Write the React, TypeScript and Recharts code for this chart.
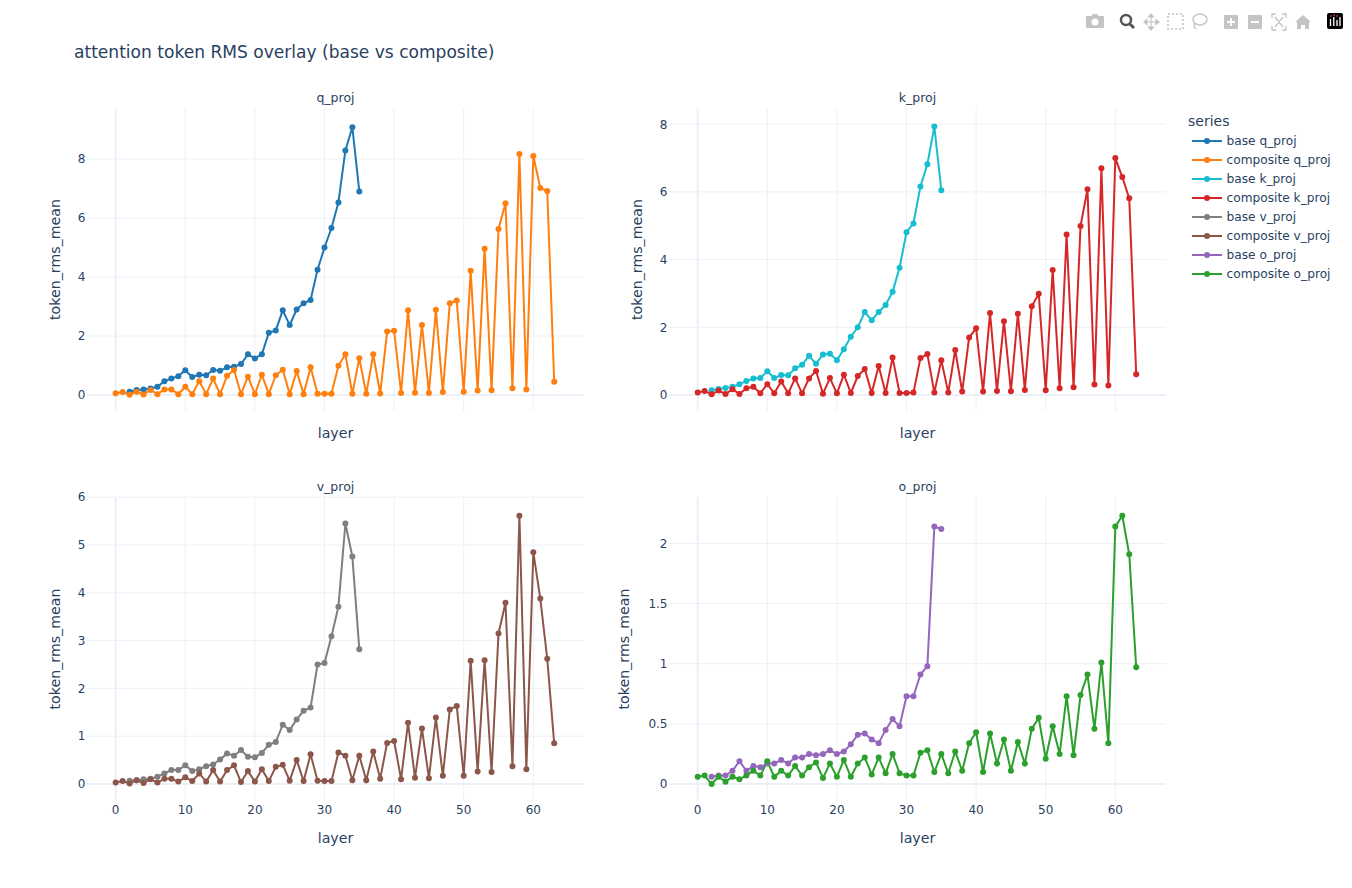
import { CartesianGrid, Line, LineChart, ReferenceLine, XAxis, YAxis } from "recharts";

const FONT = "'DejaVu Sans', Verdana, sans-serif";
const TEXT = "#2a3f5f";
const GRID = "#EBF0F8";

// values start at layer 2 for the base runs, layer 0 for the composite runs
const baseQ = [
  0.11, 0.17, 0.19, 0.22, 0.28, 0.47, 0.56, 0.64, 0.84, 0.61, 0.69, 0.67, 0.85, 0.82, 0.94, 0.96, 1.05,
  1.38, 1.24, 1.38, 2.11, 2.19, 2.87, 2.37, 2.9, 3.11, 3.22, 4.25, 5.0, 5.66, 6.53, 8.29, 9.08, 6.9,
];
const compositeQ = [
  0.06, 0.1, 0.01, 0.11, 0.02, 0.17, 0.03, 0.19, 0.19, 0.03, 0.28, 0.03, 0.47, 0.03, 0.56, 0.03, 0.65, 0.85,
  0.03, 0.62, 0.03, 0.69, 0.03, 0.67, 0.86, 0.03, 0.81, 0.03, 0.94, 0.04, 0.04, 0.04, 0.99, 1.38, 0.04, 1.25,
  0.04, 1.38, 0.05, 2.15, 2.18, 0.07, 2.87, 0.08, 2.37, 0.07, 2.89, 0.1, 3.11, 3.2, 0.11, 4.21, 0.15, 4.96,
  0.16, 5.63, 6.5, 0.23, 8.17, 0.19, 8.1, 7.02, 6.92, 0.45,
];
const baseK = [
  0.14, 0.18, 0.21, 0.24, 0.32, 0.41, 0.49, 0.5, 0.7, 0.5, 0.59, 0.58, 0.79, 0.89, 1.16, 0.92, 1.2, 1.22,
  1.03, 1.35, 1.72, 2.0, 2.45, 2.21, 2.45, 2.66, 3.05, 3.76, 4.81, 5.07, 6.16, 6.82, 7.93, 6.05,
];
const compositeK = [
  0.07, 0.12, 0.02, 0.13, 0.03, 0.17, 0.03, 0.2, 0.24, 0.05, 0.32, 0.05, 0.4, 0.05, 0.49, 0.05, 0.49, 0.71,
  0.04, 0.5, 0.05, 0.6, 0.06, 0.56, 0.77, 0.06, 0.86, 0.06, 1.11, 0.06, 0.06, 0.07, 1.09, 1.21, 0.07, 1.03,
  0.07, 1.33, 0.1, 1.7, 1.97, 0.1, 2.42, 0.12, 2.18, 0.11, 2.4, 0.15, 2.62, 2.99, 0.14, 3.69, 0.2, 4.74, 0.23,
  4.99, 6.08, 0.31, 6.7, 0.28, 7.0, 6.44, 5.81, 0.61,
];
const baseV = [
  0.07, 0.08, 0.1, 0.11, 0.15, 0.22, 0.29, 0.29, 0.39, 0.27, 0.31, 0.37, 0.41, 0.51, 0.64, 0.59, 0.71, 0.57,
  0.56, 0.65, 0.82, 0.88, 1.24, 1.13, 1.35, 1.53, 1.6, 2.5, 2.53, 3.09, 3.71, 5.45, 4.76, 2.82,
];
const compositeV = [
  0.03, 0.06, 0.01, 0.08, 0.02, 0.1, 0.03, 0.11, 0.11, 0.05, 0.14, 0.06, 0.22, 0.05, 0.29, 0.05, 0.29, 0.39,
  0.04, 0.27, 0.05, 0.31, 0.06, 0.36, 0.4, 0.07, 0.5, 0.06, 0.62, 0.07, 0.06, 0.06, 0.66, 0.59, 0.08, 0.59,
  0.08, 0.68, 0.11, 0.86, 0.9, 0.1, 1.28, 0.13, 1.16, 0.12, 1.39, 0.17, 1.56, 1.63, 0.17, 2.58, 0.26, 2.59,
  0.25, 3.15, 3.79, 0.37, 5.61, 0.31, 4.85, 3.88, 2.62, 0.85,
];
const baseO = [
  0.06, 0.07, 0.07, 0.11, 0.19, 0.11, 0.15, 0.14, 0.17, 0.17, 0.2, 0.17, 0.22, 0.22, 0.25, 0.24, 0.25, 0.28,
  0.25, 0.27, 0.33, 0.41, 0.42, 0.37, 0.34, 0.45, 0.54, 0.48, 0.73, 0.73, 0.91, 0.98, 2.14, 2.12,
];
const compositeO = [
  0.06, 0.07, 0.0, 0.06, 0.02, 0.06, 0.04, 0.07, 0.11, 0.07, 0.19, 0.06, 0.11, 0.07, 0.15, 0.07, 0.14, 0.18,
  0.05, 0.17, 0.06, 0.2, 0.06, 0.17, 0.22, 0.08, 0.22, 0.09, 0.25, 0.09, 0.07, 0.07, 0.26, 0.28, 0.1, 0.25,
  0.09, 0.27, 0.11, 0.34, 0.43, 0.1, 0.42, 0.17, 0.37, 0.11, 0.35, 0.17, 0.46, 0.55, 0.21, 0.48, 0.25, 0.73,
  0.24, 0.74, 0.91, 0.46, 1.01, 0.34, 2.14, 2.23, 1.91, 0.97,
];

const layerTicks = [0, 10, 20, 30, 40, 50, 60];
const legendNames = [
  "base q_proj",
  "composite q_proj",
  "base k_proj",
  "composite k_proj",
  "base v_proj",
  "composite v_proj",
  "base o_proj",
  "composite o_proj",
];
const legendColors = ["#1f77b4", "#ff7f0e", "#17becf", "#d62728", "#7f7f7f", "#8c564b", "#9467bd", "#2ca02c"];

const buildRows = (base: number[], composite: number[]) =>
  composite.map((value, layer) => ({
    layer,
    composite: value,
    base: layer >= 2 && layer - 2 < base.length ? base[layer - 2] : null,
  }));

type PanelProps = {
  title: string;
  base: number[];
  composite: number[];
  baseColor: string;
  compositeColor: string;
  yTicks: number[];
  yDomain: [number, number];
  left: number;
  plotLeft: number;
  plotTop: number;
  plotHeight: number;
  showTicks: boolean;
  yTitleOffset: number;
};

// top row shares its x axis with the bottom row: no labels, grid stays
const NoTick = () => <g />;

function Panel(p: PanelProps) {
  const plotWidth = 497;
  const top = p.plotTop - 12;
  const bottomBox = 56;
  const axisWidth = p.plotLeft - p.left;
  const dot = (color: string) => ({ r: 3, fill: color, stroke: color, strokeWidth: 0 });
  return (
    <>
      <div
        style={{
          position: "absolute",
          left: p.plotLeft,
          width: plotWidth,
          top: p.plotTop - 17,
          textAlign: "center",
          fontSize: 12.5,
          lineHeight: "14px",
          color: TEXT,
        }}
      >
        {p.title}
      </div>
      <div style={{ position: "absolute", left: p.left, top }}>
        <LineChart
          width={axisWidth + plotWidth + 10}
          height={p.plotHeight + 12 + bottomBox}
          data={buildRows(p.base, p.composite)}
          margin={{ top: 12, right: 10, bottom: 0, left: 0 }}
        >
          <CartesianGrid stroke={GRID} strokeWidth={1} horizontalValues={p.yTicks} verticalValues={layerTicks} />
          <XAxis
            dataKey="layer"
            type="number"
            domain={[-4.12, 67.28]}
            ticks={layerTicks}
            height={bottomBox}
            axisLine={false}
            tickLine={false}
            tickSize={0}
            tickMargin={4.7}
            tick={p.showTicks ? { fill: TEXT, fontSize: 12, fontFamily: FONT } : NoTick}
            label={{
              value: "layer",
              position: "insideTop",
              offset: p.showTicks ? 32 : 17,
              style: { fill: TEXT, fontSize: 14.2, fontFamily: FONT },
            }}
          />
          <YAxis
            type="number"
            domain={p.yDomain}
            ticks={p.yTicks}
            width={axisWidth}
            axisLine={false}
            tickLine={false}
            tickSize={0}
            tickMargin={1.5}
            interval={0}
            tick={{ fill: TEXT, fontSize: 12, fontFamily: FONT }}
            label={{
              value: "token_rms_mean",
              angle: -90,
              position: "insideLeft",
              offset: p.yTitleOffset,
              style: { fill: TEXT, fontSize: 14.2, fontFamily: FONT, textAnchor: "middle" },
            }}
          />
          <ReferenceLine x={0} stroke={GRID} strokeWidth={2} />
          <ReferenceLine y={0} stroke={GRID} strokeWidth={2} />
          <Line
            dataKey="base"
            stroke={p.baseColor}
            strokeWidth={2}
            dot={dot(p.baseColor)}
            isAnimationActive={false}
          />
          <Line
            dataKey="composite"
            stroke={p.compositeColor}
            strokeWidth={2}
            dot={dot(p.compositeColor)}
            isAnimationActive={false}
          />
        </LineChart>
      </div>
    </>
  );
}

function Modebar() {
  const soft = "#c4c4c4";
  return (
    <svg style={{ position: "absolute", left: 1080, top: 8 }} width={272} height={28}>
      {/* camera */}
      <path d="M7 8 h4 l2 -2 h4 l2 2 h4 a1 1 0 0 1 1 1 v10 a1 1 0 0 1 -1 1 h-16 a1 1 0 0 1 -1 -1 v-10 a1 1 0 0 1 1 -1z" fill={soft} />
      <circle cx={15} cy={14} r={3.5} fill="#fff" />
      {/* zoom */}
      <circle cx={46} cy={12} r={5} fill="none" stroke="#555" strokeWidth={2.5} />
      <path d="M50 16 l4 4" stroke="#555" strokeWidth={3} />
      {/* pan */}
      <path d="M71 6 v16 M64 14 h15 M71 6 l-2.5 3 h5z M71 22 l-2.5 -3 h5z M64 14 l3 -2.5 v5z M79 14 l-3 -2.5 v5z" stroke={soft} strokeWidth={1.2} fill={soft} />
      {/* box select */}
      <rect x={88} y={6} width={15} height={15} fill="none" stroke={soft} strokeWidth={1.6} strokeDasharray="2 2" />
      {/* lasso */}
      <ellipse cx={120} cy={11.5} rx={7} ry={5.5} fill="none" stroke={soft} strokeWidth={1.4} />
      <path d="M115 15 q-2 4 1 6" fill="none" stroke={soft} strokeWidth={1.4} />
      {/* zoom in / out */}
      <rect x={144} y={7} width={14} height={14} fill={soft} />
      <path d="M147 14 h8 M151 10 v8" stroke="#fff" strokeWidth={2} />
      <rect x={168} y={7} width={14} height={14} fill={soft} />
      <path d="M171 14 h8" stroke="#fff" strokeWidth={2} />
      {/* autoscale */}
      <path d="M192 10 v-4 h4 M206 10 v-4 h-4 M192 18 v4 h4 M206 18 v4 h-4 M195 9 l8 10 M203 9 l-8 10" fill="none" stroke={soft} strokeWidth={1.3} />
      {/* home */}
      <path d="M223 7 l8 7 h-2 v7 h-4 v-4 h-4 v4 h-4 v-7 h-2z" fill={soft} />
      {/* logo */}
      <rect x={247} y={5} width={16} height={16} rx={2} fill="#000" />
      <path d="M250.5 11 v7 M253.8 9 v9 M257 12 v6 M260 9 v9" stroke="#fff" strokeWidth={1.3} />
      <path d="M250 8 h2 M253 7 h2 M256 8 h2" stroke="#e8467c" strokeWidth={1} />
    </svg>
  );
}

function SeriesLegend() {
  return (
    <div style={{ position: "absolute", left: 1188, top: 112, color: TEXT }}>
      <div style={{ fontSize: 14, lineHeight: "18px" }}>series</div>
      <div style={{ marginTop: 1 }}>
        {legendNames.map((name, i) => (
          <div key={name} style={{ display: "flex", alignItems: "center", height: 19, fontSize: 12.2 }}>
            <svg width={30} height={10} style={{ marginLeft: 4, marginRight: 4.5 }}>
              <line x1={0} y1={5} x2={30} y2={5} stroke={legendColors[i]} strokeWidth={2} />
              <circle cx={15} cy={5} r={3} fill={legendColors[i]} />
            </svg>
            <span>{name}</span>
          </div>
        ))}
      </div>
    </div>
  );
}

export default function App() {
  return (
    <div
      style={{
        position: "absolute",
        left: 0,
        top: 0,
        width: 1352,
        height: 888,
        overflow: "hidden",
        background: "#fff",
        fontFamily: FONT,
      }}
    >
      <Modebar />
      <div style={{ position: "absolute", left: 74, top: 41, fontSize: 17.07, lineHeight: "22px", color: TEXT }}>
        attention token RMS overlay (base vs composite)
      </div>
      <Panel
        title="q_proj"
        base={baseQ}
        composite={compositeQ}
        baseColor="#1f77b4"
        compositeColor="#ff7f0e"
        yTicks={[0, 2, 4, 6, 8]}
        yDomain={[-0.542, 9.73]}
        left={40}
        plotLeft={87}
        plotTop={108}
        plotHeight={303}
        showTicks={false}
        yTitleOffset={15}
      />
      <Panel
        title="k_proj"
        base={baseK}
        composite={compositeK}
        baseColor="#17becf"
        compositeColor="#d62728"
        yTicks={[0, 2, 4, 6, 8]}
        yDomain={[-0.473, 8.48]}
        left={620}
        plotLeft={669}
        plotTop={108}
        plotHeight={303}
        showTicks={false}
        yTitleOffset={17}
      />
      <Panel
        title="v_proj"
        base={baseV}
        composite={compositeV}
        baseColor="#7f7f7f"
        compositeColor="#8c564b"
        yTicks={[0, 1, 2, 3, 4, 5, 6]}
        yDomain={[-0.356, 6.004]}
        left={40}
        plotLeft={87}
        plotTop={497}
        plotHeight={304}
        showTicks={true}
        yTitleOffset={15}
      />
      <Panel
        title="o_proj"
        base={baseO}
        composite={compositeO}
        baseColor="#9467bd"
        compositeColor="#2ca02c"
        yTicks={[0, 0.5, 1, 1.5, 2]}
        yDomain={[-0.141, 2.386]}
        left={610}
        plotLeft={669}
        plotTop={497}
        plotHeight={304}
        showTicks={true}
        yTitleOffset={14}
      />
      <SeriesLegend />
    </div>
  );
}
